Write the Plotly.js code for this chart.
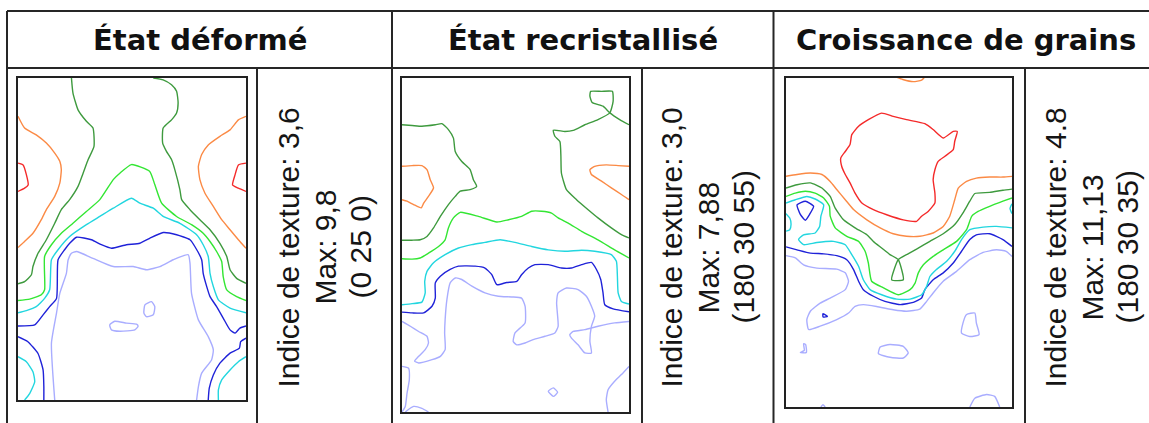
<!DOCTYPE html>
<html><head><meta charset="utf-8">
<script src="https://cdn.plot.ly/plotly-3.0.1.min.js"></script>
<style>html,body{margin:0;padding:0;background:#fff;}#chart{width:1149px;height:423px;}</style>
</head><body><div id="chart"></div>
<script>
// ---------------- DATA ----------------
const panelTitles = ['État déformé', 'État recristallisé', 'Croissance de grains'];
const textureIndex = ['3,6', '3,0', '4.8'];
const maxValues = ['9,8', '7,88', '11,13'];
const maxLocations = ['(0 25 0)', '(180 30 55)', '(180 30 35)'];

// contour lines, [x, y] pairs in degrees of the section (0-90 x 0-90)
// Panel 1 : État déformé
const def_red_left = [[0,23.8],[2.0,24.3],[3.3,27.0],[4.0,29.9],[2.6,30.8],[0,31.7]];
const def_red_right = [[90,23.8],[87.0,24.3],[85.7,27.0],[84.7,29.9],[87.0,30.8],[90,31.7]];
const def_orange_left = [[0,10.7],[2.6,14.0],[7.2,15.9],[11.2,18.2],[14.5,21.0],[16.5,23.3],[17.1,25.6],[16.5,29.4],[14.5,33.1],[11.2,36.8],[9.2,39.6],[5.9,43.4],[2.6,45.7],[0,47.4]];
const def_orange_right = [[90,10.7],[87.0,11.7],[83.7,14.5],[79.7,16.3],[75.1,18.7],[72.5,21.4],[71.2,24.7],[71.8,28.4],[73.8,32.2],[77.1,35.9],[80.4,39.6],[83.7,42.4],[87.0,45.2],[90,47.6]];
const def_darkgreen_left = [[21.1,0],[21.7,4.2],[23.7,8.9],[27.0,12.1],[29.6,14.0],[30.0,19.1],[27.7,22.8],[25.7,26.6],[23.7,30.3],[20.4,34.0],[17.1,36.8],[14.5,40.6],[11.2,45.2],[7.9,49.0],[5.9,52.7],[5.3,55.0],[2.6,56.9],[0,57.5]];
const def_darkgreen_right = [[53.4,0],[57.3,0.5],[60.6,1.9],[62.6,3.7],[63.2,7.0],[62.6,9.8],[60.6,11.7],[57.3,14.0],[57.1,18.2],[58.6,20.5],[60.6,22.8],[61.9,25.6],[63.9,31.2],[64.6,34.0],[67.9,36.8],[71.8,39.6],[75.8,42.4],[79.7,46.2],[82.4,49.9],[83.7,53.6],[86.3,56.0],[90,57.4]];
const def_green = [[0,62.2],[4.6,61.8],[9.2,60.6],[10.5,59.2],[10.5,49.9],[13.2,46.6],[17.1,43.4],[21.7,40.6],[27.0,37.3],[32.3,34.0],[37.6,28.4],[40.2,26.6],[44.8,24.2],[52.0,26.1],[54.0,29.8],[56.7,35.0],[62.6,38.7],[68.5,41.0],[73.1,43.4],[75.8,45.7],[78.4,48.5],[80.4,51.3],[81.0,55.5],[82.4,59.2],[86.3,61.1],[90,62.2]];
const def_cyan_top = [[0,65.6],[3.3,65.0],[7.2,63.9],[10.5,61.6],[12.5,59.2],[13.2,50.8],[15.8,48.0],[20.4,44.3],[27.0,41.0],[32.3,38.7],[37.6,36.4],[44.8,33.6],[48.1,35.0],[53.4,36.4],[57.3,38.7],[63.9,40.6],[70.5,43.8],[73.1,46.6],[75.1,49.9],[75.8,54.6],[77.1,58.3],[79.1,62.0],[83.7,64.3],[90,65.6]];
const def_cyan_bl = [[0,77.9],[3.3,79.3],[5.9,82.1],[6.6,84.9],[4.6,88.2],[2.6,90]];
const def_cyan_br = [[90,77.9],[87.0,79.3],[83.7,81.6],[80.4,84.4],[79.1,87.2],[79.1,90]];
const def_blue_top = [[0,69.3],[6.6,69.0],[9.9,66.2],[12.5,63.9],[15.2,61.6],[15.8,50.8],[18.4,48.0],[20.4,46.2],[23.1,44.5],[29.0,45.2],[32.9,46.6],[36.9,47.6],[42.8,46.6],[48.1,46.2],[52.0,44.8],[57.3,43.2],[62.6,43.8],[67.9,45.2],[69.8,47.1],[72.5,50.8],[73.1,54.6],[74.5,58.3],[75.8,61.1],[78.4,63.9],[81.0,67.1],[83.7,70.4],[85.7,71.3],[87.6,69.9],[90,69.3]];
const def_blue_bl = [[0,72.3],[3.9,73.7],[7.9,77.0],[9.9,81.6],[10.2,86.3],[10.2,90]];
const def_blue_br = [[90,72.7],[87.9,73.7],[87.4,75.5],[83.7,76.9],[79.7,79.7],[77.1,83.0],[75.5,86.7],[75.1,90]];
const def_lavender_main = [[14.5,90],[13.2,74.1],[15.2,65.7],[16.5,60.2],[19.1,54.6],[19.8,50.8],[21.1,49.0],[23.1,48.5],[29.6,50.4],[37.6,52.7],[45.5,52.7],[50.7,53.6],[56.0,52.7],[61.3,50.8],[67.2,49.4],[67.9,51.8],[68.5,60.2],[71.2,67.6],[75.1,72.3],[77.1,76.0],[76.4,78.8],[72.5,82.5],[71.2,86.3],[70.5,90]];
const def_lavender_i1 = [[50.1,63.4],[52.7,62.5],[54.0,63.9],[53.4,66.2],[50.7,66.7],[49.7,65.7],[50.1,63.4]];
const def_lavender_i2 = [[36.2,69.0],[38.2,68.0],[42.8,68.5],[46.8,68.8],[47.4,69.4],[46.1,70.4],[40.2,70.8],[36.9,70.4],[36.2,69.0]];

// Panel 2 : État recristallisé
const rec_darkgreen_left = [[0,12.6],[4.0,12.8],[7.9,13.0],[13.2,12.6],[15.8,12.3],[18.4,13.9],[20.4,16.2],[21.1,19.8],[23.7,22.5],[27.0,24.7],[28.3,27.4],[29.6,29.2],[27.0,30.1],[23.1,30.5],[21.1,31.9],[18.4,34.1],[15.2,37.3],[12.5,40.4],[9.9,42.7],[7.2,43.6],[4.0,43.7],[0,43.7]];
const rec_darkgreen_right = [[90,12.6],[86.3,11.2],[82.4,9.4],[79.7,7.6],[75.4,6.6],[74.5,4.9],[74.8,3.6],[79.1,3.6],[83.4,3.6],[83.7,6.3],[82.4,9.4],[77.7,11.2],[72.5,12.6],[67.9,14.1],[64.6,14.4],[60.0,14.1],[60.6,15.7],[62.6,17.1],[63.0,21.1],[63.2,25.6],[65.2,30.1],[69.2,32.8],[73.8,35.5],[77.7,37.7],[83.0,40.4],[87.0,42.2],[90,43.1]];
const rec_orange_left = [[0,23.8],[4.0,23.6],[7.9,23.6],[9.9,24.7],[11.2,27.4],[12.5,29.6],[10.5,31.9],[8.6,33.7],[7.6,35.0],[4.6,34.1],[2.0,33.2],[0,32.8]];
const rec_orange_right = [[90,23.8],[85.7,23.6],[81.0,23.4],[76.4,23.8],[74.5,24.7],[75.1,26.0],[79.1,27.8],[83.0,29.6],[87.0,31.4],[90,32.8]];
const rec_green = [[0,48.7],[4.0,48.8],[7.2,48.5],[10.5,47.2],[14.5,45.4],[17.1,43.6],[18.4,40.4],[20.4,37.7],[23.1,36.2],[30.3,37.3],[37.6,38.8],[42.2,38.2],[47.4,37.3],[51.4,35.9],[55.3,35.9],[59.3,36.4],[61.9,37.7],[65.9,39.1],[71.2,41.3],[77.7,43.6],[84.3,46.3],[90,48.5]];
const rec_cyan = [[0,61.1],[4.0,60.8],[7.9,60.4],[9.2,57.9],[9.0,54.8],[9.9,52.1],[12.5,49.8],[17.1,47.6],[22.4,45.8],[27.7,44.9],[32.9,44.3],[38.9,43.6],[44.8,44.3],[51.4,45.4],[58.0,46.3],[64.6,46.7],[71.2,46.4],[76.4,46.7],[83.0,47.6],[85.0,49.4],[85.4,53.4],[85.7,57.9],[87.0,60.2],[90,60.9]];
const rec_blue = [[0,63.1],[4.0,63.3],[8.6,63.3],[11.9,61.5],[13.2,59.3],[13.2,55.2],[15.2,53.4],[19.1,51.6],[22.4,50.7],[29.0,50.7],[32.9,51.2],[35.6,53.0],[37.6,55.7],[41.5,55.1],[45.5,54.8],[47.4,53.0],[50.1,51.2],[52.7,50.3],[58.0,50.3],[63.2,51.2],[67.2,51.2],[71.2,50.3],[75.1,49.7],[77.1,51.6],[78.8,54.3],[79.7,57.9],[80.4,61.1],[83.7,62.2],[90,63.0]];
const rec_lavender_main = [[0,65.6],[3.3,66.9],[6.6,68.3],[9.9,69.6],[10.5,71.4],[9.2,73.2],[6.6,75.0],[5.0,76.3],[6.6,76.8],[11.9,75.9],[15.2,75.0],[17.1,73.2],[16.9,68.7],[17.1,65.1],[17.8,59.7],[19.1,55.2],[21.1,53.9],[23.7,54.3],[27.7,56.1],[32.9,57.9],[38.2,58.8],[43.5,59.0],[47.4,59.3],[48.8,61.5],[48.8,66.0],[44.8,68.7],[44.1,71.0],[45.5,71.9],[48.8,71.4],[52.0,70.5],[56.7,69.6],[60.6,68.7],[61.9,66.9],[61.3,60.6],[61.9,57.9],[65.2,56.6],[69.8,57.0],[73.1,58.8],[75.1,61.5],[76.4,64.2],[75.1,66.9],[74.5,71.0],[75.1,74.1],[72.5,74.1],[69.8,71.9],[67.2,70.1],[66.5,69.2],[67.9,68.3],[72.5,67.8],[77.7,66.9],[84.3,66.0],[90,65.6]];
const rec_lavender_bl = [[0,77.7],[2.6,78.2],[2.9,81.3],[2.0,84.9],[1.3,88.5],[0,90]];
const rec_lavender_bottom = [[1.3,90],[4.6,88.5],[7.9,89.0],[10.5,90]];
const rec_lavender_br = [[81.7,90],[81.0,86.7],[81.7,84.0],[84.3,81.7],[87.0,79.9],[90,77.7]];
const rec_lavender_loop = [[58.0,84.4],[60.0,83.5],[61.7,84.7],[60.0,85.8],[58.0,84.4]];

// Panel 3 : Croissance de grains
const gro_orange_top = [[43.0,-0.5],[46.5,0.4],[50.7,1.0],[54.0,0.6],[55.5,-0.5]];
const gro_red = [[38.1,9.6],[42.7,10.5],[48.0,11.4],[55.3,12.5],[58.6,14.1],[62.6,16.4],[66.6,14.6],[68.2,14.6],[67.2,17.3],[66.6,19.6],[63.3,21.4],[60.6,22.8],[59.3,25.1],[58.6,27.8],[59.3,31.5],[59.3,34.2],[56.6,36.5],[54.0,37.8],[52.0,39.2],[46.7,38.8],[40.1,37.4],[34.8,36.0],[30.2,34.2],[27.5,31.5],[25.5,28.7],[23.6,26.4],[22.2,24.2],[21.8,21.9],[23.6,20.1],[25.5,18.2],[26.2,15.5],[28.9,13.2],[32.8,11.4],[38.1,9.6]];
const gro_orange = [[0,26.9],[4.4,26.4],[9.7,26.0],[14.3,26.4],[17.6,28.3],[20.2,30.5],[23.6,33.3],[26.9,36.0],[32.2,38.8],[37.5,41.0],[42.7,42.6],[48.0,43.3],[53.3,43.3],[58.6,42.4],[62.6,40.6],[65.2,37.8],[67.2,33.3],[68.6,30.1],[71.9,28.3],[75.8,27.4],[81.1,27.1],[86.4,27.1],[90,26.9]];
const gro_darkgreen = [[0,30.1],[4.4,29.2],[9.7,28.7],[14.3,30.1],[17.6,32.4],[19.6,35.6],[22.9,38.8],[27.5,41.0],[32.2,42.9],[34.8,44.7],[38.1,46.5],[41.4,48.3],[44.7,49.7],[46.7,55.2],[42.1,55.2],[44.7,49.7],[48.0,48.3],[52.0,46.8],[57.3,44.7],[62.6,42.6],[67.2,40.1],[70.5,36.9],[73.2,33.7],[75.2,31.6],[81.1,31.3],[86.4,30.7],[90,30.4]];
const gro_green = [[0,32.4],[3.7,31.5],[7.7,31.0],[11.6,31.5],[15.0,32.8],[17.3,35.1],[17.6,37.8],[19.6,41.0],[24.2,43.3],[28.9,44.7],[31.5,47.4],[32.8,50.6],[34.1,55.6],[38.8,57.4],[44.7,59.3],[49.4,57.9],[51.4,56.1],[52.7,53.3],[54.7,51.1],[58.6,48.8],[62.6,47.0],[67.9,44.7],[71.9,41.5],[74.0,37.8],[76.5,36.5],[81.1,35.1],[86.4,33.7],[90,32.8]];
const gro_cyan = [[0,34.2],[3.7,33.3],[8.3,32.4],[11.6,33.1],[15.0,34.7],[13.9,37.8],[13.4,40.6],[11.6,42.4],[7.0,42.9],[5.0,44.2],[7.0,45.6],[12.3,45.0],[18.9,44.7],[23.6,45.6],[26.2,48.3],[28.9,51.5],[30.8,55.2],[33.5,57.9],[38.1,59.3],[44.1,60.5],[49.4,60.5],[54.0,59.3],[56.0,57.0],[57.3,54.3],[59.9,52.4],[63.9,50.2],[67.2,47.4],[69.9,44.2],[73.2,41.5],[78.5,40.8],[83.8,40.6],[90,41.0]];
const gro_cyan_left = [[0,37.1],[1.5,38.3],[2.0,40.1],[1.5,41.5],[0,41.9]];
const gro_cyan_right = [[90,34.4],[89.2,35.7],[90,37.1]];
const gro_blue_loop = [[4.4,34.7],[7.7,33.7],[11.0,35.1],[9.4,37.3],[7.7,38.9],[5.7,37.3],[4.4,34.7]];
const gro_blue = [[0,46.2],[4.4,47.0],[9.7,47.9],[15.0,48.1],[20.2,48.6],[24.2,49.7],[26.9,52.4],[28.9,55.6],[30.8,57.9],[34.8,59.7],[39.4,61.1],[45.4,62.0],[50.7,61.4],[54.0,60.2],[55.3,57.9],[58.6,55.2],[62.6,53.3],[66.6,50.6],[69.9,47.4],[73.2,44.2],[75.8,42.9],[81.1,42.6],[86.4,44.2],[90,46.1]];
const gro_blue_dot = [[14.7,64.5],[16.5,65.2],[14.8,65.4],[14.7,64.5]];
const gro_lavender = [[0,48.6],[3.7,49.2],[7.0,51.1],[12.3,52.0],[20.2,52.3],[23.6,53.3],[24.9,55.6],[23.6,57.9],[17.6,60.2],[13.6,61.6],[9.7,63.8],[8.3,66.1],[9.0,68.8],[13.6,67.9],[20.2,66.1],[24.9,64.3],[27.5,62.5],[30.8,62.0],[36.1,62.5],[42.7,63.4],[48.0,63.8],[53.3,63.2],[56.0,61.1],[58.6,58.8],[62.6,55.6],[67.9,52.9],[73.2,49.7],[78.5,47.7],[83.8,47.0],[87.7,47.4],[90,48.8]];
const gro_lavender_i1 = [[71.9,64.7],[75.2,64.3],[75.8,67.0],[76.9,70.2],[73.2,70.7],[69.9,69.8],[70.5,67.0],[71.9,64.7]];
const gro_lavender_i2 = [[37.5,73.6],[41.4,72.9],[46.7,73.4],[48.7,75.2],[46.7,76.6],[41.4,76.4],[36.8,75.4],[37.5,73.6]];
const gro_lavender_i3 = [[7.0,72.7],[7.3,74.5],[5.7,75.1],[8.1,75.1],[7.8,72.9],[7.0,72.7]];
const gro_lavender_i4 = [[73.2,90],[75.2,87.6],[79.9,86.6],[83.1,87.1],[85.1,90]];
const gro_lavender_i5 = [[13.9,90],[14.7,89.4],[15.6,90]];

// level of each line per panel
const panelLines = [
  [['lavender',def_lavender_main],['lavender',def_lavender_i1],['lavender',def_lavender_i2],
   ['blue',def_blue_top],['blue',def_blue_bl],['blue',def_blue_br],
   ['cyan',def_cyan_top],['cyan',def_cyan_bl],['cyan',def_cyan_br],
   ['green',def_green],['darkgreen',def_darkgreen_left],['darkgreen',def_darkgreen_right],
   ['orange',def_orange_left],['orange',def_orange_right],['red',def_red_left],['red',def_red_right]],
  [['lavender',rec_lavender_main],['lavender',rec_lavender_bl],['lavender',rec_lavender_bottom],['lavender',rec_lavender_br],['lavender',rec_lavender_loop],
   ['blue',rec_blue],['cyan',rec_cyan],['green',rec_green],
   ['darkgreen',rec_darkgreen_left],['darkgreen',rec_darkgreen_right],
   ['orange',rec_orange_left],['orange',rec_orange_right]],
  [['lavender',gro_lavender],['lavender',gro_lavender_i1],['lavender',gro_lavender_i2],['lavender',gro_lavender_i3],['lavender',gro_lavender_i4],['lavender',gro_lavender_i5],
   ['blue',gro_blue],['blue',gro_blue_loop],['blue',gro_blue_dot],
   ['cyan',gro_cyan],['cyan',gro_cyan_left],['cyan',gro_cyan_right],
   ['green',gro_green],['darkgreen',gro_darkgreen],
   ['orange',gro_orange],['orange',gro_orange_top],['red',gro_red]]
];

// ---------------- STYLE / LAYOUT ----------------
const levelColors = {lavender:'#a9adff', blue:'#1f22d8', cyan:'#22d6df', green:'#33e633', darkgreen:'#3e9a3e', orange:'#fb8a45', red:'#f42a2a'};
const W = 1149, H = 423;
const px = v => v / W, py = v => 1 - v / H;
const frames = [[18,246,78,400],[402,629,78,412],[786,1012,78,407]];

const traces = [];
panelLines.forEach((lines, i) => {
  const s = i === 0 ? '' : String(i + 1);
  lines.forEach(([lvl, pts]) => {
    traces.push({
      type: 'scatter', mode: 'lines',
      x: pts.map(p => p[0]), y: pts.map(p => p[1]),
      xaxis: 'x' + s, yaxis: 'y' + s,
      line: {color: levelColors[lvl], width: 1.4, shape: 'spline', smoothing: 0.5},
      hoverinfo: 'skip', showlegend: false
    });
  });
});

const layout = {
  width: W, height: H, margin: {l:0, r:0, t:0, b:0},
  paper_bgcolor: '#fff', plot_bgcolor: '#fff', showlegend: false,
  shapes: [], annotations: []
};
frames.forEach((f, i) => {
  const s = i === 0 ? '' : String(i + 1);
  const common = {showline:true, mirror:true, linecolor:'#222', linewidth:1.8, ticks:'', showticklabels:false, showgrid:false, zeroline:false, fixedrange:true};
  layout['xaxis' + s] = Object.assign({domain:[px(f[0]), px(f[1])], range:[0,90], anchor:'y' + s}, common);
  layout['yaxis' + s] = Object.assign({domain:[py(f[3]), py(f[2])], range:[90,0], anchor:'x' + s}, common);
});

// table lines
const lineStyle = {color:'#262626', width:2};
const hLines = [[7, W, 11], [7, W, 68]];
const vLines = [[7, 11, H], [392, 11, H], [773.5, 11, H], [257, 68, H], [642, 68, H], [1025, 68, H]];
hLines.forEach(([x0, x1, y]) => layout.shapes.push({type:'line', xref:'paper', yref:'paper', x0:px(x0), x1:px(x1), y0:py(y), y1:py(y), line:lineStyle}));
vLines.forEach(([x, y0, y1]) => layout.shapes.push({type:'line', xref:'paper', yref:'paper', x0:px(x), x1:px(x), y0:py(y0), y1:py(y1), line:lineStyle}));

// headers
const headerX = [199.5, 582.5, 966];
panelTitles.forEach((t, i) => layout.annotations.push({
  text: '<b>' + t + '</b>', xref:'paper', yref:'paper', x:px(headerX[i]), y:py(40),
  xanchor:'center', yanchor:'middle', showarrow:false,
  font:{family:'DejaVu Sans, Verdana, sans-serif', size:29, color:'#111'}
}));

// rotated info text
const infoX = [325, 708, 1092];
const lineOffsets = [-37, 0, 35];
panelTitles.forEach((t, i) => {
  const texts = ['Indice de texture: ' + textureIndex[i], 'Max: ' + maxValues[i], maxLocations[i]];
  texts.forEach((tx, k) => layout.annotations.push({
    text: tx, xref:'paper', yref:'paper', x:px(infoX[i] + lineOffsets[k]), y:py(247.5),
    xanchor:'center', yanchor:'middle', showarrow:false, textangle:-90,
    font:{family:'Liberation Sans, Arial, sans-serif', size:30, color:'#151515'}
  }));
});

Plotly.newPlot('chart', traces, layout, {staticPlot:true, displayModeBar:false});
</script>
</body></html>
